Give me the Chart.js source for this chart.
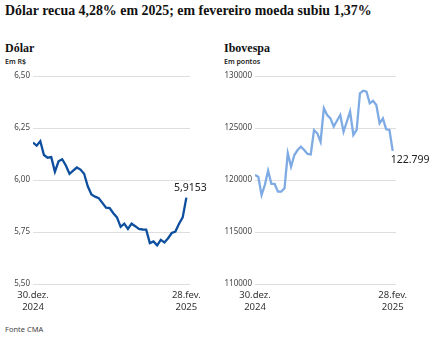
<!DOCTYPE html>
<html lang="pt-BR">
<head>
<meta charset="utf-8">
<script src="https://cdn.jsdelivr.net/npm/chart.js"></script>
<style>
  body { margin: 0; width: 436px; height: 343px; background: #fff; position: relative; overflow: hidden; font-family: "Noto Sans", sans-serif; }
  #titulo { position: absolute; left: 5px; top: 3px; font: bold 13.9px "Liberation Serif", serif; color: #111; white-space: nowrap; }
  .sub { position: absolute; font: bold 12px "Liberation Serif", serif; color: #111; }
  .unid { position: absolute; font: 600 7px "Noto Sans", sans-serif; color: #222; }
  #fonte { position: absolute; left: 5px; top: 324px; font: 7.5px "Noto Sans", sans-serif; color: #444; }
  canvas { position: absolute; }
</style>
</head>
<body>
<div id="titulo">Dólar recua 4,28% em 2025; em fevereiro moeda subiu 1,37%</div>
<div class="sub" style="left:5px;top:41px">Dólar</div>
<div class="unid" style="left:5px;top:57px">Em R$</div>
<div class="sub" style="left:224px;top:41px">Ibovespa</div>
<div class="unid" style="left:224px;top:57px">Em pontos</div>
<canvas id="cDolar" style="left:0;top:66px"></canvas>
<canvas id="cIbov" style="left:216px;top:66px"></canvas>
<div id="fonte">Fonte CMA</div>
<script>
// 43 pregões, de 30.dez.2024 a 28.fev.2025
const rotulosX = [["30.dez.", "2024"], ["28.fev.", "2025"]];

const dolar = [6.18, 6.165, 6.186, 6.12, 6.107, 6.11, 6.04, 6.09, 6.10, 6.07,
  6.03, 6.045, 6.06, 6.05, 6.03, 5.97, 5.93, 5.92, 5.913, 5.89,
  5.867, 5.865, 5.84, 5.82, 5.775, 5.79, 5.765, 5.79, 5.778, 5.765,
  5.762, 5.761, 5.697, 5.705, 5.686, 5.712, 5.70, 5.72, 5.745, 5.752,
  5.79, 5.82, 5.9153];

const ibovespa = [120480, 120320, 118560, 119520, 120900, 119620, 119620, 118880, 118880, 119200,
  122570, 121280, 122400, 122880, 123200, 122880, 122500, 122450, 124800, 124490,
  123680, 126900, 126250, 125930, 125130, 125700, 126250, 124640, 125600, 126570,
  124330, 124810, 128340, 128590, 128490, 127370, 127620, 127210, 125450, 125930,
  124870, 124810, 122799];

const ticksDolar = [5.5, 5.75, 6.0, 6.25, 6.5];
const ticksIbov = [110000, 115000, 120000, 125000, 130000];

// escreve o último valor perto do fim da linha
const rotuloFinal = {
  id: 'rotuloFinal',
  afterDatasetsDraw(chart, args, opts) {
    const meta = chart.getDatasetMeta(0);
    const pt = meta.data[meta.data.length - 1];
    const ctx = chart.ctx;
    ctx.save();
    ctx.font = '10.5px "Noto Sans", sans-serif';
    ctx.fillStyle = '#222';
    ctx.textAlign = opts.align;
    ctx.textBaseline = 'middle';
    ctx.fillText(opts.texto, pt.x + opts.dx, pt.y + opts.dy);
    ctx.restore();
  }
};

function montarGrafico(id, largura, esqEixo, dadosY, ticksY, cor, fmt, rotulo) {
  const canvas = document.getElementById(id);
  canvas.width = largura;
  canvas.height = 248;
  canvas.style.width = largura + 'px';
  canvas.style.height = '248px';
  const pontos = dadosY.map((v, i) => ({ x: i, y: v }));
  return new Chart(canvas, {
    type: 'line',
    data: {
      datasets: [{
        data: pontos,
        borderColor: cor,
        borderWidth: 2.3,
        pointRadius: 0,
        tension: 0,
        fill: false
      }]
    },
    options: {
      responsive: false,
      animation: false,
      devicePixelRatio: 1,
      layout: { padding: { top: 10, right: largura - esqEixo - (id === 'cDolar' ? 157 : 141), bottom: 0, left: 0 } },
      plugins: {
        legend: { display: false },
        tooltip: { enabled: false },
        rotuloFinal: rotulo
      },
      scales: {
        x: {
          type: 'linear',
          min: 0,
          max: 43,
          grid: { display: false },
          border: { display: false },
          afterBuildTicks: ax => { ax.ticks = [{ value: 0 }, { value: 42 }]; },
          afterFit: ax => { ax.height = 30; },
          ticks: {
            autoSkip: false,
            maxRotation: 0,
            padding: -3,
            color: '#333',
            font: { family: 'Noto Sans', size: 9.5, lineHeight: 1.25 },
            callback: v => v === 0 ? rotulosX[0] : rotulosX[1]
          }
        },
        y: {
          min: ticksY[0],
          max: ticksY[ticksY.length - 1],
          afterBuildTicks: ax => { ax.ticks = ticksY.map(v => ({ value: v })); },
          afterFit: ax => { ax.width = esqEixo; },
          grid: { color: '#dedede', lineWidth: 1, drawTicks: false },
          border: { display: false },
          ticks: {
            padding: 3,
            color: '#444',
            font: { family: 'Noto Sans', size: 8 },
            callback: fmt
          }
        }
      }
    },
    plugins: [rotuloFinal]
  });
}

montarGrafico('cDolar', 215, 33, dolar, ticksDolar, '#0d4f9e',
  v => v.toFixed(2).replace('.', ','),
  { texto: '5,9153', dx: 4, dy: -10, align: 'center' });

montarGrafico('cIbov', 220, 39, ibovespa, ticksIbov, '#7eabe3',
  v => String(v),
  { texto: '122.799', dx: -2, dy: 9, align: 'left' });
</script>
</body>
</html>
